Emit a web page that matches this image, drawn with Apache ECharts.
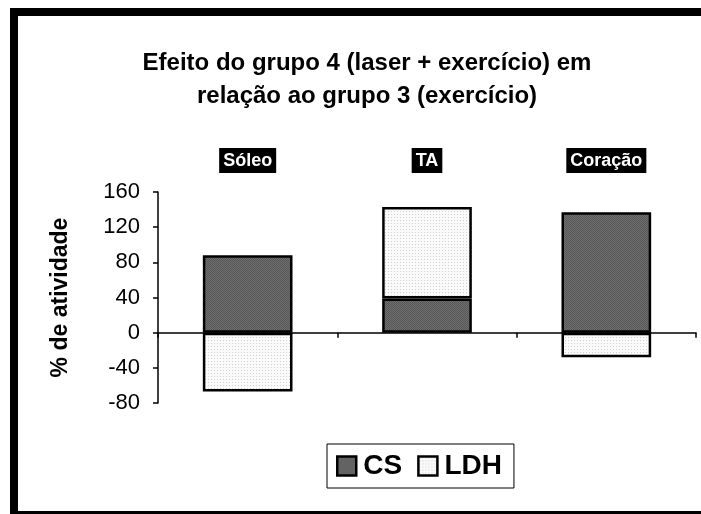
<!DOCTYPE html>
<html>
<head>
<meta charset="utf-8">
<script src="https://cdn.jsdelivr.net/npm/echarts@6/dist/echarts.min.js"></script>
<style>
  html, body { margin: 0; padding: 0; background: #fff; }
  #chart { width: 701px; height: 514px; }
</style>
</head>
<body>
<div id="chart"></div>
<script>
// dados do gráfico
const categorias = ['Sóleo', 'TA', 'Coração']
const valoresCS = [88, 39, 137]
const valoresLDH = [-67, 104, -28]
const yMin = -80
const yMax = 160
const yInterval = 40

const fonte = '"Liberation Sans", Arial, sans-serif'

// padrões de preenchimento (hachura escura e pontilhado claro)
const makePattern = (size, bg, dots) => {
  const c = document.createElement('canvas')
  c.width = size
  c.height = size
  const ctx = c.getContext('2d')
  ctx.fillStyle = bg
  ctx.fillRect(0, 0, size, size)
  dots.forEach(d => {
    ctx.fillStyle = d[2]
    ctx.fillRect(d[0], d[1], 1, 1)
  })
  return c
}

const padraoEscuro = makePattern(2, '#6e6e6e', [[0, 0, '#585858'], [1, 1, '#585858']])
const padraoClaro = makePattern(3, '#fafafa', [[1, 1, '#cfcfcf']])

const chart = echarts.init(document.getElementById('chart'))

const option = {
  animation: false,
  backgroundColor: '#fff',
  textStyle: { fontFamily: fonte, color: '#000' },
  graphic: [
    // moldura
    { type: 'rect', shape: { x: 10, y: 8, width: 8, height: 506 }, style: { fill: '#000' } },
    { type: 'rect', shape: { x: 10, y: 8, width: 691, height: 8 }, style: { fill: '#000' } },
    { type: 'rect', shape: { x: 10, y: 511, width: 691, height: 3 }, style: { fill: '#000' } }
  ],
  title: {
    text: 'Efeito do grupo 4 (laser + exercício) em\nrelação ao grupo 3 (exercício)',
    left: 362,
    textAlign: 'center',
    top: 42,
    textStyle: {
      fontFamily: fonte,
      fontWeight: 'bold',
      fontSize: 24,
      lineHeight: 33,
      color: '#000'
    }
  },
  legend: {
    left: 327,
    top: 444,
    orient: 'horizontal',
    icon: 'rect',
    itemWidth: 19,
    itemHeight: 19,
    itemGap: 15,
    padding: [8, 12, 8, 9],
    borderColor: '#000',
    borderWidth: 1,
    itemStyle: { borderColor: '#000', borderWidth: 2.5 },
    textStyle: {
      fontFamily: fonte,
      fontWeight: 'bold',
      fontSize: 28,
      color: '#000',
      padding: [0, 0, 0, 2]
    },
    data: ['CS', 'LDH']
  },
  grid: {
    left: 158,
    right: 5,
    top: 192,
    bottom: 111,
    containLabel: false
  },
  xAxis: [
    {
      type: 'category',
      data: categorias,
      position: 'bottom',
      axisLine: { onZero: true, lineStyle: { color: '#000', width: 1.5 } },
      axisTick: { show: true, length: 5, lineStyle: { color: '#000', width: 1.5 } },
      axisLabel: { show: false },
      splitLine: { show: false }
    },
    {
      type: 'category',
      data: categorias,
      position: 'top',
      axisLine: { show: false, onZero: false },
      axisTick: { show: false },
      splitLine: { show: false },
      axisLabel: {
        fontFamily: fonte,
        fontWeight: 'bold',
        fontSize: 18,
        color: '#fff',
        backgroundColor: '#000',
        padding: [4, 4, 3, 4],
        margin: 19
      }
    }
  ],
  yAxis: {
    type: 'value',
    min: yMin,
    max: yMax,
    interval: yInterval,
    name: '% de atividade',
    nameLocation: 'middle',
    nameGap: 86,
    nameTextStyle: {
      fontFamily: fonte,
      fontWeight: 'bold',
      fontSize: 23,
      color: '#000'
    },
    axisLine: { show: true, lineStyle: { color: '#000', width: 1.5 } },
    axisTick: { show: true, length: 5, lineStyle: { color: '#000', width: 1.5 } },
    axisLabel: {
      fontFamily: fonte,
      fontSize: 22,
      color: '#000',
      margin: 18
    },
    splitLine: { show: false }
  },
  series: [
    {
      name: 'CS',
      type: 'bar',
      stack: 'total',
      barWidth: '50%',
      itemStyle: {
        color: { image: padraoEscuro, repeat: 'repeat' },
        borderColor: '#000',
        borderWidth: 2.5
      },
      data: valoresCS
    },
    {
      name: 'LDH',
      type: 'bar',
      stack: 'total',
      barWidth: '50%',
      itemStyle: {
        color: { image: padraoClaro, repeat: 'repeat' },
        borderColor: '#000',
        borderWidth: 2.5
      },
      data: valoresLDH
    }
  ]
}

chart.setOption(option)
</script>
</body>
</html>
